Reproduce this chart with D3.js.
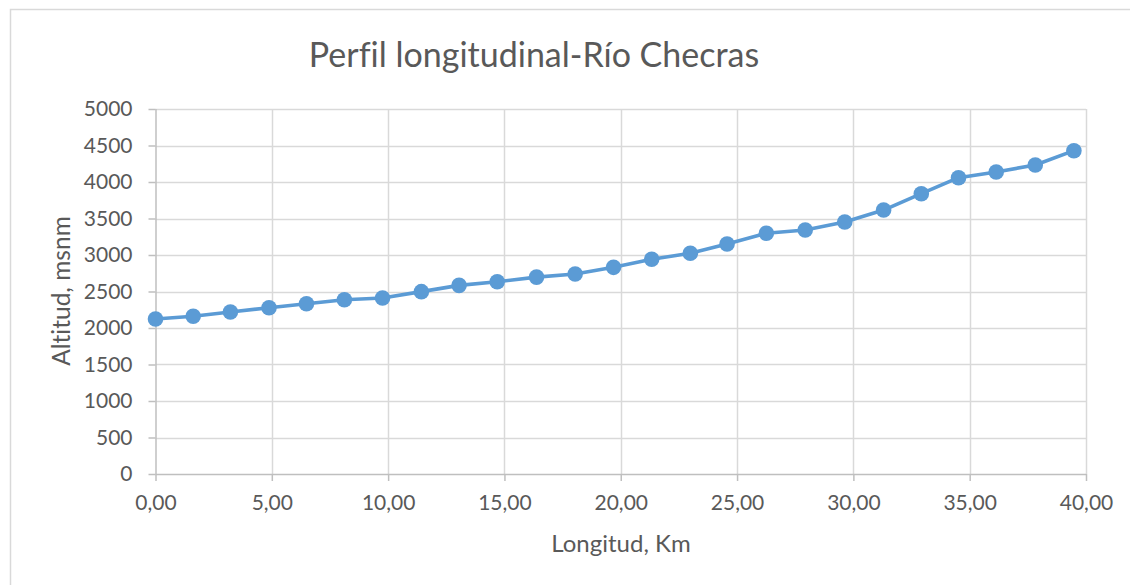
<!DOCTYPE html>
<html>
<head>
<meta charset="utf-8">
<script src="https://cdn.jsdelivr.net/npm/d3@7"></script>
<style>
  html, body { margin: 0; padding: 0; background: #fff; }
  svg { display: block; }
  text { font-family: Lato, "Open Sans", "DejaVu Sans", sans-serif; fill: #595959; font-variant-ligatures: none; }
</style>
</head>
<body>
<svg id="chart" width="1130" height="585"></svg>
<script>
// ---- Data ----
const longitudKm = [0.00, 1.62, 3.22, 4.88, 6.49, 8.12, 9.76, 11.43, 13.05, 14.69, 16.38, 18.04, 19.69,
                    21.33, 22.99, 24.57, 26.26, 27.93, 29.63, 31.30, 32.92, 34.52, 36.14, 37.82, 39.48];
const altitudMsnm = [2123, 2160, 2219, 2278, 2333, 2388, 2411, 2498, 2584, 2634, 2697, 2740, 2831,
                     2941, 3023, 3151, 3297, 3342, 3452, 3616, 3840, 4059, 4137, 4233, 4429];
const xTicks = [0, 5, 10, 15, 20, 25, 30, 35, 40];
const yTicks = [0, 500, 1000, 1500, 2000, 2500, 3000, 3500, 4000, 4500, 5000];
const titleText = "Perfil longitudinal-Río Checras";
const xTitle = "Longitud, Km";
const yTitle = "Altitud, msnm";

const svg = d3.select("#chart");

// chart area border (extends beyond the right/bottom of the picture)
svg.append("rect")
  .attr("x", 10.5).attr("y", 9.5)
  .attr("width", 1140).attr("height", 600)
  .attr("fill", "#fff").attr("stroke", "#D9D9D9").attr("stroke-width", 1.5);

const plot = { left: 155.5, right: 1086, top: 109, bottom: 474 };

const x = d3.scaleLinear().domain([0, 40]).range([plot.left, plot.right]);
const y = d3.scaleLinear().domain([0, 5000]).range([plot.bottom, plot.top]);

// gridlines
const grid = svg.append("g");
grid.selectAll(".hg").data(yTicks.filter(d => d > 0)).join("line")
  .attr("x1", plot.left).attr("x2", plot.right)
  .attr("y1", d => Math.round(y(d)) + 0.5).attr("y2", d => Math.round(y(d)) + 0.5)
  .attr("stroke", "#D9D9D9").attr("stroke-width", 1.5);
grid.selectAll(".vg").data(xTicks.filter(d => d > 0)).join("line")
  .attr("x1", d => Math.round(x(d)) + 0.5).attr("x2", d => Math.round(x(d)) + 0.5)
  .attr("y1", plot.top).attr("y2", plot.bottom)
  .attr("stroke", "#D9D9D9").attr("stroke-width", 1.5);

// axes
const fmtX = d => d3.format(".2f")(d).replace(".", ",");
const xAxis = d3.axisBottom(x).tickValues(xTicks).tickFormat(fmtX).tickSize(7).tickPadding(14);
const yAxis = d3.axisLeft(y).tickValues(yTicks).tickFormat(d3.format("d")).tickSize(7).tickPadding(16);

const gx = svg.append("g").attr("transform", `translate(0,${plot.bottom})`).call(xAxis);
const gy = svg.append("g").attr("transform", `translate(${plot.left},0)`).call(yAxis);
[gx, gy].forEach(g => {
  g.select(".domain").attr("stroke", "#BFBFBF").attr("stroke-width", 1.5);
  g.selectAll(".tick line").attr("stroke", "#BFBFBF").attr("stroke-width", 1.5);
  g.selectAll(".tick text").attr("fill", "#595959").style("font-size", "21px")
    .style("font-family", "Lato, 'Open Sans', sans-serif");
});
gx.select(".domain").attr("d", `M${plot.left},0.5H${plot.right}`);
gy.select(".domain").attr("d", `M0.5,${plot.top}V${plot.bottom}`);

// series
const pts = longitudKm.map((d, i) => ({ x: d, y: altitudMsnm[i] }));
svg.append("path").datum(pts)
  .attr("fill", "none").attr("stroke", "#5B9BD5").attr("stroke-width", 3.6)
  .attr("stroke-linejoin", "round")
  .attr("d", d3.line().x(d => x(d.x)).y(d => y(d.y)));
svg.selectAll(".pt").data(pts).join("circle")
  .attr("cx", d => x(d.x)).attr("cy", d => y(d.y)).attr("r", 7.8)
  .attr("fill", "#5B9BD5");

// titles
svg.append("text").attr("x", 534).attr("y", 67).attr("text-anchor", "middle")
  .style("font-size", "34px").text(titleText);
svg.append("text").attr("x", 621).attr("y", 552).attr("text-anchor", "middle")
  .style("font-size", "24px").text(xTitle);
svg.append("text").attr("transform", "translate(70,291) rotate(-90)").attr("text-anchor", "middle")
  .style("font-size", "24.5px").text(yTitle);
</script>
</body>
</html>
